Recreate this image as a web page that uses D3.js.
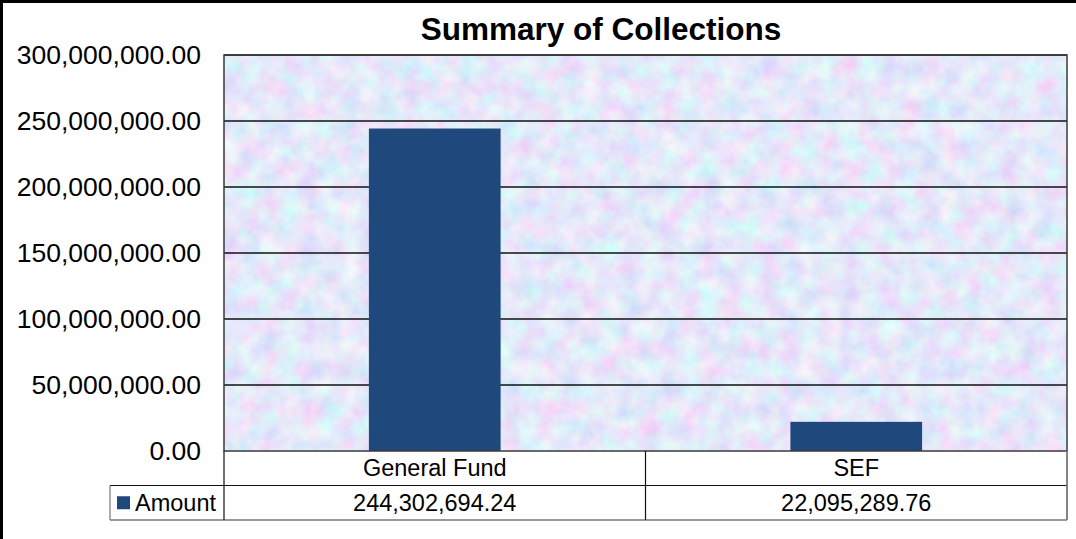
<!DOCTYPE html>
<html>
<head>
<meta charset="utf-8">
<script src="https://cdn.jsdelivr.net/npm/d3@7"></script>
<style>
  html, body { margin: 0; padding: 0; background: #fff; }
  svg { display: block; font-family: "Liberation Sans", Arial, sans-serif; }
</style>
</head>
<body>
<script>
// ---- data ----
const title = "Summary of Collections";
const categories = ["General Fund", "SEF"];
const seriesName = "Amount";
const amounts = [244302694.24, 22095289.76];
const yTicks = [0, 50000000, 100000000, 150000000, 200000000, 250000000, 300000000];

// ---- layout ----
const W = 1076, H = 539;
const plot = { left: 224, top: 55, right: 1067, bottom: 451 };
const rowH = 34.5;
const legendLeft = 110;
const fmt = d3.format(",.2f");

const svg = d3.select("body").append("svg").attr("width", W).attr("height", H);

// texture
const defs = svg.append("defs");
const f = defs.append("filter").attr("id", "tex")
  .attr("x", 0).attr("y", 0).attr("width", 1).attr("height", 1)
  .attr("filterUnits", "objectBoundingBox");
f.append("feTurbulence").attr("type", "fractalNoise")
  .attr("baseFrequency", "0.05").attr("numOctaves", 4).attr("seed", 7).attr("result", "n");
f.append("feColorMatrix").attr("in", "n").attr("type", "matrix")
  .attr("values", [
    "0.5 0 0 0 0.53",
    "-0.1 0.45 0 0 0.635",
    "0 0 0.1 0 0.90",
    "0 0 0 0 1"].join(" "));

const x = d3.scaleBand().domain(categories).range([plot.left, plot.right])
  .paddingInner(0.6875).paddingOuter(0.34375);
const xStep = d3.scaleBand().domain(categories).range([plot.left, plot.right]);
const y = d3.scaleLinear().domain([0, 300000000]).range([plot.bottom, plot.top]);

// plot background
svg.append("rect")
  .attr("x", plot.left).attr("y", plot.top)
  .attr("width", plot.right - plot.left).attr("height", plot.bottom - plot.top)
  .attr("filter", "url(#tex)").attr("fill", "#ccd6f4");

// gridlines
svg.append("g").selectAll("line").data(yTicks.filter(d => d > 0)).join("line")
  .attr("x1", plot.left).attr("x2", plot.right)
  .attr("y1", d => y(d)).attr("y2", d => y(d))
  .attr("stroke", "#111").attr("stroke-width", 1.5);

// bars
svg.append("g").selectAll("rect").data(amounts).join("rect")
  .attr("x", (d, i) => x(categories[i]))
  .attr("width", x.bandwidth())
  .attr("y", d => y(d))
  .attr("height", d => y(0) - y(d))
  .attr("fill", "#1F497D");

// plot border
svg.append("rect")
  .attr("x", plot.left).attr("y", plot.top)
  .attr("width", plot.right - plot.left).attr("height", plot.bottom - plot.top)
  .attr("fill", "none").attr("stroke", "#3a3a3a").attr("stroke-width", 1.5);

// y axis labels
const yAxis = d3.axisLeft(y).tickValues(yTicks).tickFormat(fmt).tickSize(0).tickPadding(23);
const ya = svg.append("g").attr("transform", `translate(${plot.left},0)`).call(yAxis);
ya.select(".domain").remove();
ya.selectAll("text").attr("font-size", 26.5).attr("fill", "#000")
  .attr("font-family", "'Liberation Sans', Arial, sans-serif");

// title
svg.append("text").attr("x", 601).attr("y", 40).attr("text-anchor", "middle")
  .attr("font-size", 31.5).attr("font-weight", "bold").attr("fill", "#000").text(title);

// data table
const r1 = plot.bottom, r2 = plot.bottom + rowH, r3 = plot.bottom + 2 * rowH;
const tg = svg.append("g");
tg.append("line").attr("x1", legendLeft).attr("x2", plot.right).attr("y1", r2).attr("y2", r2)
  .attr("stroke", "#111").attr("stroke-width", 1.2);
tg.append("line").attr("x1", legendLeft).attr("x2", plot.right).attr("y1", r3).attr("y2", r3)
  .attr("stroke", "#777").attr("stroke-width", 1.5);
tg.append("line").attr("x1", legendLeft).attr("x2", legendLeft).attr("y1", r2).attr("y2", r3)
  .attr("stroke", "#777").attr("stroke-width", 1.2);
const bounds = categories.map(c => xStep(c)).concat([plot.right]);
tg.selectAll("line.v").data(bounds).join("line").attr("class", "v")
  .attr("x1", d => d).attr("x2", d => d).attr("y1", r1).attr("y2", r3)
  .attr("stroke", (d, i) => i === bounds.length - 1 ? "#777" : "#111")
  .attr("stroke-width", (d, i) => i === bounds.length - 1 ? 1.8 : 1.2);

tg.selectAll("text.cat").data(categories).join("text").attr("class", "cat")
  .attr("x", d => xStep(d) + xStep.bandwidth() / 2).attr("y", (r1 + r2) / 2)
  .attr("dy", "0.35em").attr("text-anchor", "middle").attr("font-size", 23.5).text(d => d);
tg.selectAll("text.val").data(amounts).join("text").attr("class", "val")
  .attr("x", (d, i) => xStep(categories[i]) + xStep.bandwidth() / 2).attr("y", (r2 + r3) / 2)
  .attr("dy", "0.35em").attr("text-anchor", "middle").attr("font-size", 23.5).text(d => fmt(d));

// legend key
tg.append("rect").attr("x", 117).attr("y", (r2 + r3) / 2 - 6.5).attr("width", 13).attr("height", 13)
  .attr("fill", "#1F497D");
tg.append("text").attr("x", 135).attr("y", (r2 + r3) / 2).attr("dy", "0.35em")
  .attr("font-size", 23.5).text(seriesName);

// outer border (top & left)
svg.append("path").attr("d", `M1.5,${H} V1.5 H${W}`).attr("fill", "none")
  .attr("stroke", "#000").attr("stroke-width", 3);
</script>
</body>
</html>
